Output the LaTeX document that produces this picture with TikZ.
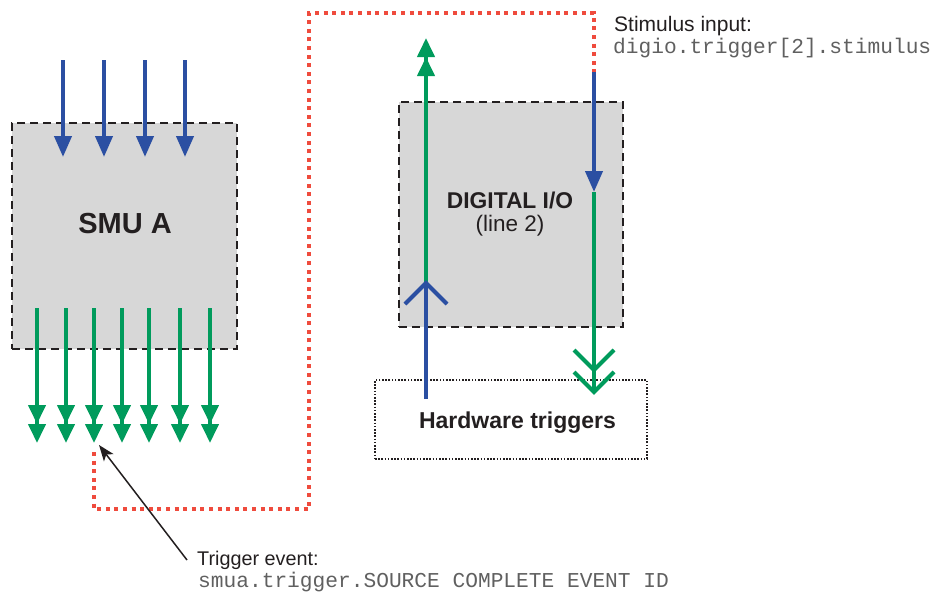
\documentclass[tikz,border=0pt]{standalone}
\usepackage{fontspec}
\setmainfont{Liberation Sans}
\setmonofont{Liberation Mono}
\usetikzlibrary{arrows.meta}
\definecolor{bl}{HTML}{2B4FA2}
\definecolor{gr}{HTML}{009B5C}
\definecolor{rd}{HTML}{EF4B3D}
\definecolor{bx}{HTML}{D7D7D7}
\definecolor{tx}{HTML}{231F20}
\definecolor{mono}{HTML}{606060}
\begin{document}
\begin{tikzpicture}[x=1pt,y=-1pt,
  unitbox/.style={draw=tx, fill=bx, line width=2.4pt, dash pattern=on 8pt off 5pt, inner sep=0pt},
  hwbox/.style={draw=tx, line width=1.6pt, dash pattern=on 1.6pt off 1.6pt, inner sep=0pt},
  bluearrow/.style={draw=bl, line width=4pt, -{Triangle[width=17pt,length=21pt]}},
  greenarrow/.style={draw=gr, line width=4pt, -{Triangle[width=17pt,length=19pt,sep=0pt]Triangle[width=17pt,length=19pt,sep=0pt]}},
  chev/.style={line width=4pt, line join=miter},
  reddots/.style={draw=rd, line width=4pt, dash pattern=on 4pt off 4.6pt},
  lbl/.style={text=tx, inner sep=0pt},
  code/.style={text=mono, inner sep=0pt, font=\ttfamily\fontsize{21.2}{24}\selectfont},
]
\useasboundingbox (0,0) rectangle (935,592);

% boxes
\node[unitbox, minimum width=225pt, minimum height=226pt] (smu) at (124.5,236) {};
\node[unitbox, minimum width=224pt, minimum height=225pt] (dio) at (511,214.5) {};
\node[hwbox, minimum width=272pt, minimum height=79pt] (hw) at (511,419.5) {};

% labels
\node[lbl, font=\bfseries\fontsize{29}{32}\selectfont, anchor=base] (smulbl) at (125,233) {SMU A};
\node[lbl, font=\bfseries\fontsize{22.8}{26}\selectfont, anchor=base] (diolbl) at (510,208) {DIGITAL I/O};
\node[lbl, font=\fontsize{22.5}{26}\selectfont, anchor=base] (linelbl) at (510,231) {(line 2)};
\node[lbl, font=\bfseries\fontsize{23}{26}\selectfont, anchor=base] (hwlbl) at (517.5,428) {Hardware triggers};

\node[lbl, font=\fontsize{21}{24}\selectfont, anchor=base west] (stim) at (614,31.5) {Stimulus input:};
\node[code, anchor=base west] (stimcode) at (613,53) {digio.trigger[2].stimulus};
\node[lbl, font=\fontsize{19.8}{22}\selectfont, anchor=base west] (trig) at (197,565) {Trigger event:};
\node[code, anchor=base west] (trigcode) at (198,587) {smua.trigger.SOURCE COMPLETE EVENT ID};

% SMU inputs (blue)
\foreach \x [count=\i] in {63,104,145,185}{
  \coordinate (in\i s) at (\x,60);
  \coordinate (in\i e) at (\x,157);
  \draw[bluearrow] (in\i s) -- (in\i e);
}
% SMU outputs (green)
\foreach \x [count=\i] in {37,66,94,122,149,180,210}{
  \coordinate (out\i s) at (\x,308);
  \coordinate (out\i e) at (\x,443);
  \draw[greenarrow] (out\i s) -- (out\i e);
}

% red dotted link
\coordinate (r1) at (94,452);
\coordinate (r2) at (94,509);
\coordinate (r3) at (309,509);
\coordinate (r4) at (309,13);
\coordinate (r5) at (594,13);
\coordinate (r6) at (594,72);
\draw[reddots] (r1) -- (r2) -- (r3) -- (r4) -- (r5) -- (r6);

% right line: stimulus into digital I/O and out to hardware triggers
\coordinate (s1) at (594,192);
\coordinate (s2) at (594,392);
\draw[bluearrow] (r6) -- (s1);
\draw[draw=gr, line width=4pt] (s1) -- (s2);
\draw[draw=gr, chev] (574,350) -- (594,370) -- (614,350);
\draw[draw=gr, chev] (574,372) -- (594,392) -- (614,372);

% left line: hardware triggers into digital I/O and out
\coordinate (h1) at (426,399);
\coordinate (h2) at (426,283);
\coordinate (h3) at (426,38);
\draw[draw=bl, line width=4pt] (h1) -- (h2);
\draw[greenarrow] (h2) -- (h3);
\draw[draw=bl, chev] (405,304) -- (426,283) -- (447,304);

% annotation arrow
\coordinate (evt) at (99,445);
\coordinate (trigstart) at (187,560);
\draw[draw=tx, line width=1.5pt, -{Stealth[width=12pt,length=16pt,inset=4pt]}] (trigstart) -- (evt);
\end{tikzpicture}
\end{document}
